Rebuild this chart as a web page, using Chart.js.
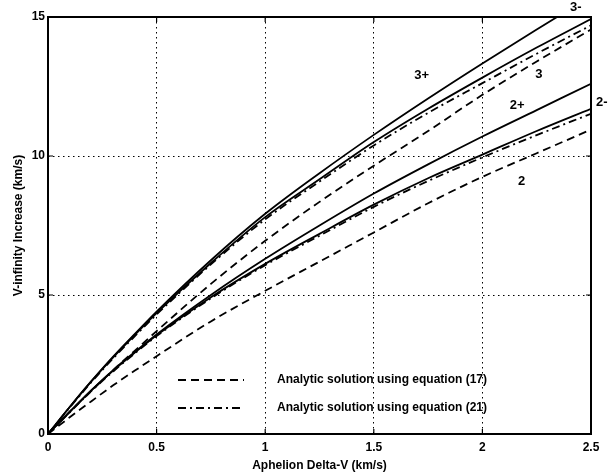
<!DOCTYPE html>
<html>
<head>
<meta charset="utf-8">
<script src="https://cdn.jsdelivr.net/npm/chart.js@4.4.1/dist/chart.umd.min.js"></script>
<style>
  html, body { margin: 0; padding: 0; background: #fff; }
  #wrap { width: 609px; height: 473px; }
</style>
</head>
<body>
<div id="wrap"><canvas id="vinfChart"></canvas></div>
<script>
// aphelion delta-V (km/s)
const deltaV = [0, 0.1, 0.2, 0.3, 0.4, 0.5, 0.75, 1.0, 1.25, 1.5, 1.75, 2.0, 2.25, 2.5];

// numerical solutions (solid)
const res3plus  = [0, 0.97, 1.9, 2.78, 3.6, 4.4, 6.25, 7.92, 9.38, 10.76, 12.07, 13.33, 14.55, 15.75];
const res3minus = [0, 0.97, 1.9, 2.76, 3.57, 4.35, 6.15, 7.8, 9.16, 10.5, 11.7, 12.82, 13.9, 14.93];
const res2plus  = [0, 0.8, 1.58, 2.3, 2.95, 3.58, 5.0, 6.3, 7.5, 8.65, 9.7, 10.7, 11.65, 12.6];
const res2minus = [0, 0.8, 1.57, 2.28, 2.93, 3.55, 4.92, 6.12, 7.2, 8.25, 9.2, 10.05, 10.9, 11.7];

// analytic, equation (17) (dashed)
const eq17_3 = [0, 0.8, 1.55, 2.3, 3.0, 3.7, 5.4, 6.95, 8.35, 9.65, 10.9, 12.2, 13.4, 14.55];
const eq17_2 = [0, 0.6, 1.18, 1.75, 2.28, 2.8, 4.05, 5.15, 6.2, 7.25, 8.3, 9.25, 10.1, 10.95];

// analytic, equation (21) (dash-dot)
const eq21_3 = [0, 0.95, 1.87, 2.72, 3.52, 4.3, 6.1, 7.72, 9.08, 10.38, 11.55, 12.62, 13.68, 14.7];
const eq21_2 = [0, 0.78, 1.55, 2.25, 2.9, 3.52, 4.88, 6.07, 7.13, 8.17, 9.1, 9.95, 10.75, 11.52];

const xTicks = [0, 0.5, 1, 1.5, 2, 2.5];
const yTicks = [0, 5, 10, 15];

// curve tags, placed in data coordinates
const curveTags = [
  { text: "3+", x: 1.72, y: 12.9 },
  { text: "3", x: 2.26, y: 12.95 },
  { text: "3-", x: 2.43, y: 15.36 },
  { text: "2+", x: 2.16, y: 11.83 },
  { text: "2-", x: 2.55, y: 11.94 },
  { text: "2", x: 2.18, y: 9.07 }
];

const legendItems = ["Analytic solution using equation (17)", "Analytic solution using equation (21)"];

const DASH = [8, 5];
const DASHDOT = [8, 4, 2, 4];
const FONT = "'Liberation Sans', Arial, sans-serif";

function pts(ys) {
  return deltaV.map((x, i) => ({ x: x, y: ys[i] }));
}

function line(label, ys, dash) {
  return {
    label: label,
    data: pts(ys),
    borderColor: "#000",
    borderWidth: 1.8,
    borderDash: dash,
    pointRadius: 0,
    cubicInterpolationMode: "monotone",
    fill: false
  };
}

const framePlugin = {
  id: "frame",
  afterDraw(chart) {
    const { ctx, chartArea: a, scales } = chart;
    ctx.save();
    ctx.strokeStyle = "#000";
    ctx.setLineDash([]);
    ctx.lineWidth = 2;
    ctx.strokeRect(a.left, a.top, a.right - a.left, a.bottom - a.top);

    // inward tick marks on all four sides
    ctx.lineWidth = 1.2;
    const tl = 5;
    xTicks.forEach(v => {
      const px = scales.x.getPixelForValue(v);
      ctx.beginPath();
      ctx.moveTo(px, a.bottom); ctx.lineTo(px, a.bottom - tl);
      ctx.moveTo(px, a.top); ctx.lineTo(px, a.top + tl);
      ctx.stroke();
    });
    yTicks.forEach(v => {
      const py = scales.y.getPixelForValue(v);
      ctx.beginPath();
      ctx.moveTo(a.left, py); ctx.lineTo(a.left + tl, py);
      ctx.moveTo(a.right, py); ctx.lineTo(a.right - tl, py);
      ctx.stroke();
    });

    // curve tags
    ctx.fillStyle = "#000";
    ctx.font = "bold 13px " + FONT;
    ctx.textAlign = "center";
    ctx.textBaseline = "middle";
    curveTags.forEach(t => {
      ctx.fillText(t.text, scales.x.getPixelForValue(t.x), scales.y.getPixelForValue(t.y));
    });

    // legend inside the axes
    const dashes = [DASH, DASHDOT];
    ctx.font = "bold 12px " + FONT;
    ctx.textAlign = "left";
    legendItems.forEach((txt, i) => {
      const y = 380 + i * 28;
      ctx.beginPath();
      ctx.lineWidth = 1.8;
      ctx.setLineDash(dashes[i]);
      ctx.moveTo(178, y);
      ctx.lineTo(244, y);
      ctx.stroke();
      ctx.setLineDash([]);
      ctx.fillText(txt, 277, y);
    });
    ctx.restore();
  }
};

new Chart(document.getElementById("vinfChart"), {
  type: "line",
  data: {
    datasets: [
      line("3+", res3plus, []),
      line("3-", res3minus, []),
      line("2+", res2plus, []),
      line("2-", res2minus, []),
      line("3 eq17", eq17_3, DASH),
      line("2 eq17", eq17_2, DASH),
      line("3 eq21", eq21_3, DASHDOT),
      line("2 eq21", eq21_2, DASHDOT)
    ]
  },
  options: {
    responsive: true,
    maintainAspectRatio: false,
    animation: false,
    layout: { padding: { top: 17, right: 18, left: 11, bottom: 0 } },
    plugins: {
      legend: { display: false },
      tooltip: { enabled: false }
    },
    scales: {
      x: {
        type: "linear",
        min: 0,
        max: 2.5,
        afterFit(scale) { scale.height = 39; },
        afterBuildTicks(scale) { scale.ticks = xTicks.map(v => ({ value: v })); },
        grid: {
          color: "#000",
          lineWidth: 1,
          drawTicks: false
        },
        border: { display: false, dash: [1.5, 3.5] },
        ticks: {
          color: "#000",
          padding: 6,
          maxRotation: 0,
          font: { family: FONT, size: 12, weight: "bold" },
          callback: v => String(v)
        },
        title: {
          display: true,
          text: "Aphelion Delta-V (km/s)",
          color: "#000",
          padding: { top: 0, bottom: 0 },
          font: { family: FONT, size: 12, weight: "bold" }
        }
      },
      y: {
        type: "linear",
        min: 0,
        max: 15,
        afterFit(scale) { scale.width = 37; },
        afterBuildTicks(scale) { scale.ticks = yTicks.map(v => ({ value: v })); },
        grid: {
          color: "#000",
          lineWidth: 1,
          drawTicks: false
        },
        border: { display: false, dash: [1.5, 3.5] },
        ticks: {
          color: "#000",
          padding: 3,
          font: { family: FONT, size: 12, weight: "bold" }
        },
        title: {
          display: true,
          text: "V-infinity Increase (km/s)",
          color: "#000",
          padding: { top: 0, bottom: 0 },
          font: { family: FONT, size: 12, weight: "bold" }
        }
      }
    }
  },
  plugins: [framePlugin]
});
</script>
</body>
</html>
